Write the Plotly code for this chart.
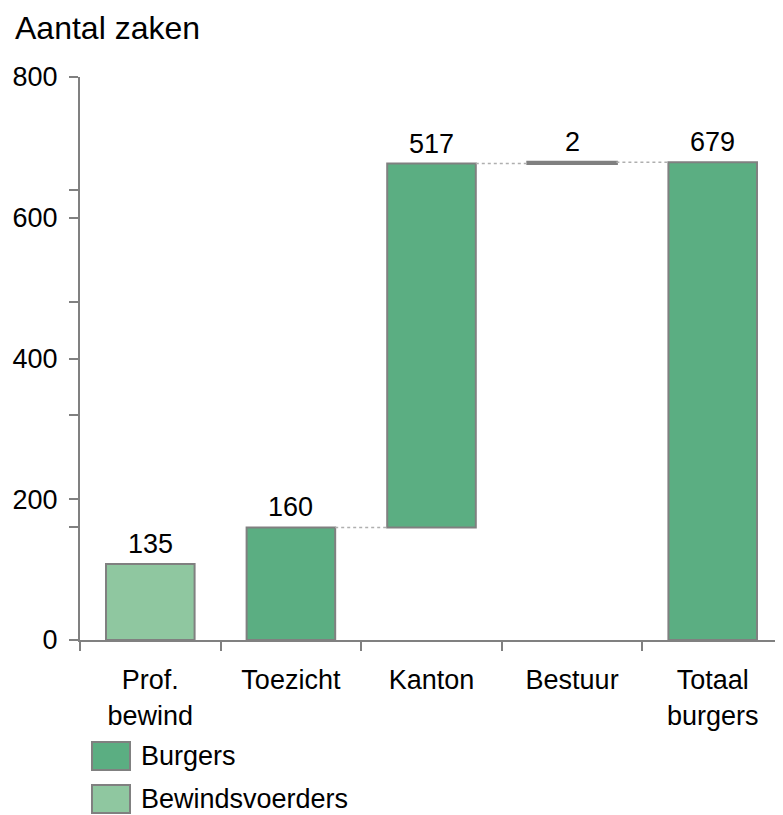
import plotly.graph_objects as go

# ---- data ----
categories = ["Prof.<br>bewind", "Toezicht", "Kanton", "Bestuur", "Totaal<br>burgers"]

bewind_cats = ["Prof.<br>bewind"]
bewind_heights = [108]
bewind_labels = ["135"]

burger_cats = ["Toezicht", "Kanton", "Bestuur", "Totaal<br>burgers"]
burger_bases = [0, 160, 677, 0]
burger_heights = [160, 517, 2, 679]
burger_labels = ["160", "517", "2", "679"]

y_ticks = [0, 200, 400, 600, 800]

# ---- styles ----
FONT = "Arial, Liberation Sans, sans-serif"
FS = 27
C_BURGER = "#5BAE82"
C_BEWIND = "#8FC7A0"
C_EDGE = "#808080"
BW = 0.63

# page body has an 8px default margin: figure sized so page is 783x815
OFF = 8
W, H = 783 - OFF, 815 - OFF

fig = go.Figure()
fig.add_trace(go.Bar(
    x=bewind_cats, y=bewind_heights, width=BW, name="Bewindsvoerders",
    marker=dict(color=C_BEWIND, line=dict(color=C_EDGE, width=2)),
    showlegend=False,
))
fig.add_trace(go.Bar(
    x=burger_cats, y=burger_heights, base=burger_bases, width=BW, name="Burgers",
    marker=dict(color=[C_BURGER, C_BURGER, C_EDGE, C_BURGER], line=dict(color=C_EDGE, width=[2, 2, 3, 2])),
    showlegend=False,
))

# value labels
all_cats = bewind_cats + burger_cats
all_tops = list(bewind_heights) + [b + h for b, h in zip(burger_bases, burger_heights)]
all_labels = bewind_labels + burger_labels
for c, t, lab in zip(all_cats, all_tops, all_labels):
    fig.add_annotation(x=c, y=t, text=lab, showarrow=False, xref="x", yref="y",
                       yanchor="bottom", yshift=3, font=dict(size=FS, color="black", family=FONT))

# waterfall connectors between consecutive burger bars
for i in range(len(burger_cats) - 1):
    level = burger_bases[i] + burger_heights[i]
    xi = categories.index(burger_cats[i])
    xj = categories.index(burger_cats[i + 1])
    fig.add_shape(type="line", xref="x", yref="y",
                  x0=xi + BW / 2, x1=xj - BW / 2, y0=level, y1=level,
                  line=dict(color="#AFAFAF", width=1.5, dash="dot"))

# plot area in screen pixels -> figure pixels
PL, PR, PT, PB = 80 - OFF, 783 - OFF, 77 - OFF, 640 - OFF
def px_x(p):
    return (p - OFF - PL) / (PR - PL)
def px_y(p):
    return (PB - (p - OFF)) / (PB - PT)

legend_items = [("Burgers", C_BURGER, 742), ("Bewindsvoerders", C_BEWIND, 785)]
for name, col, top in legend_items:
    fig.add_shape(type="rect", xref="paper", yref="paper",
                  x0=px_x(92), x1=px_x(130), y0=px_y(top + 28), y1=px_y(top),
                  fillcolor=col, line=dict(color=C_EDGE, width=2))
    fig.add_annotation(xref="paper", yref="paper", x=px_x(139), y=px_y(top + 14),
                       xanchor="left", yanchor="middle", text=name, showarrow=False,
                       font=dict(size=FS, color="black", family=FONT))

fig.update_layout(
    width=W, height=H,
    margin=dict(l=PL, r=W - PR, t=PT, b=H - PB, pad=0),
    plot_bgcolor="white", paper_bgcolor="white",
    barmode="overlay",
    font=dict(family=FONT, size=FS, color="black"),
    title=dict(text="Aantal zaken", x=(15 - OFF) / W, xanchor="left", xref="container",
               y=1 - (28 - OFF) / H, yanchor="middle", yref="container",
               font=dict(size=32, color="black", family=FONT)),
    showlegend=False,
)
fig.update_xaxes(
    type="category", categoryorder="array", categoryarray=categories,
    automargin=False,
    showline=True, linecolor=C_EDGE, linewidth=2,
    ticks="outside", tickson="boundaries", ticklen=9, tickcolor=C_EDGE, tickwidth=2,
    ticklabelstandoff=15,
    tickfont=dict(size=FS, color="black", family=FONT),
    showgrid=False, zeroline=False, range=[-0.5, 4.5],
)
fig.update_yaxes(
    range=[0, 800], tickvals=y_ticks, automargin=False,
    showline=True, linecolor=C_EDGE, linewidth=2,
    ticks="outside", ticklen=9, tickcolor=C_EDGE, tickwidth=2,
    ticklabelstandoff=6,
    minor=dict(ticks="outside", tick0=0, dtick=160, ticklen=9, tickcolor=C_EDGE, tickwidth=2),
    tickfont=dict(size=FS, color="black", family=FONT),
    showgrid=False, zeroline=False,
)

fig.write_html("out.html")
